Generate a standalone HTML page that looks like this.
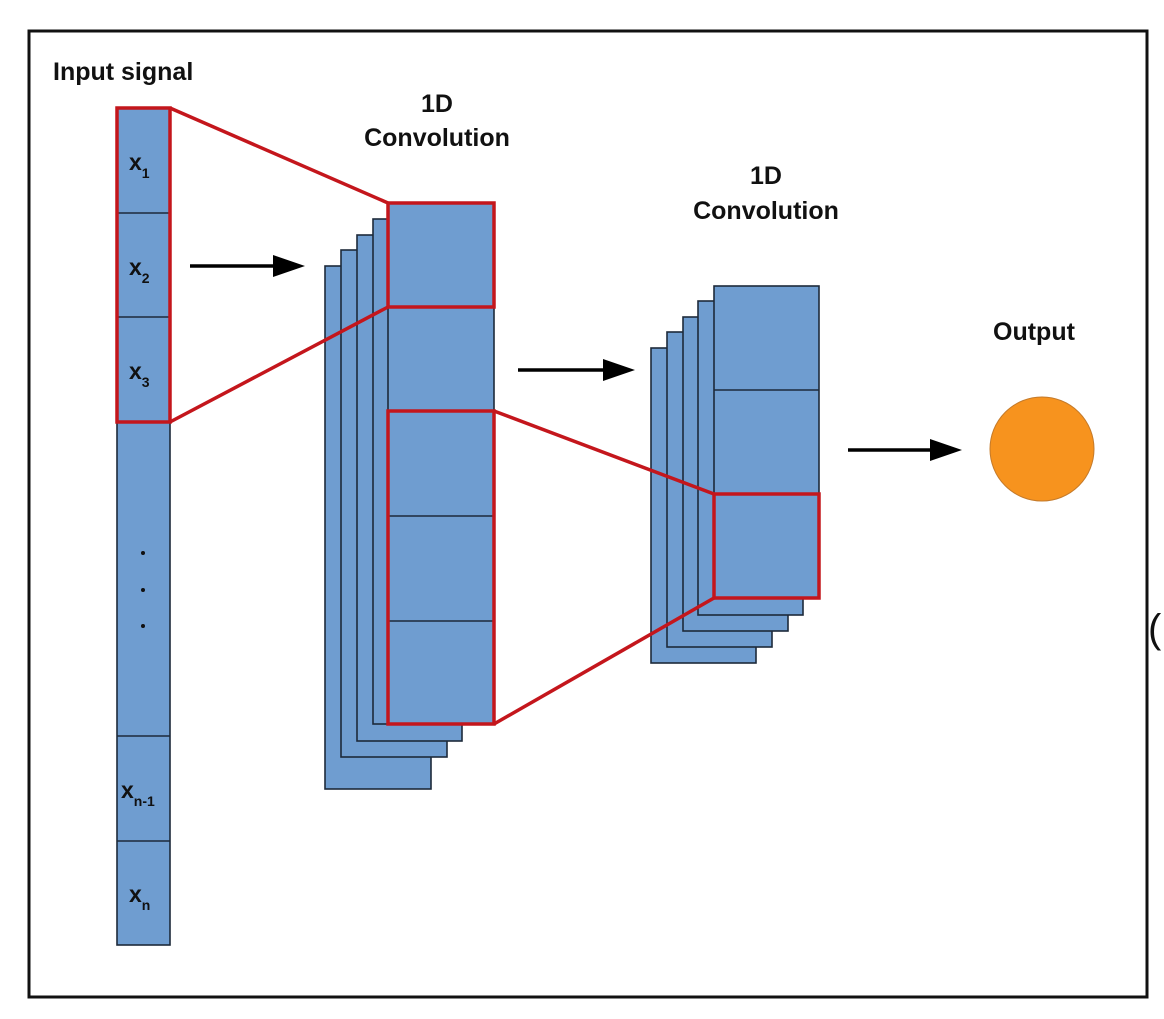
<!DOCTYPE html>
<html><head><style>html,body{margin:0;padding:0;background:#fff}</style></head><body>
<svg width="1164" height="1014" xmlns="http://www.w3.org/2000/svg" font-family="Liberation Sans, sans-serif" font-weight="bold">
<rect x="0" y="0" width="1164" height="1014" fill="#fff"/>
<rect x="29" y="31" width="1118" height="966" fill="none" stroke="#111" stroke-width="3"/>
<g fill="#6f9dd0" stroke="#1d2a3a" stroke-width="1.6">
<rect x="117" y="108" width="53" height="837"/>
<line x1="117" y1="213" x2="170" y2="213"/><line x1="117" y1="317" x2="170" y2="317"/>
<line x1="117" y1="422" x2="170" y2="422"/><line x1="117" y1="736" x2="170" y2="736"/><line x1="117" y1="841" x2="170" y2="841"/>
<rect x="325" y="266" width="106" height="523"/>
<rect x="341" y="250" width="106" height="507"/>
<rect x="357" y="235" width="105" height="506"/>
<rect x="373" y="219" width="105" height="505"/>
<rect x="388" y="203" width="106" height="521"/>
<line x1="388" y1="307" x2="494" y2="307"/><line x1="388" y1="411" x2="494" y2="411"/>
<line x1="388" y1="516" x2="494" y2="516"/><line x1="388" y1="621" x2="494" y2="621"/>
<rect x="651" y="348" width="105" height="315"/>
<rect x="667" y="332" width="105" height="315"/>
<rect x="683" y="317" width="105" height="314"/>
<rect x="698" y="301" width="105" height="314"/>
<rect x="714" y="286" width="105" height="312"/>
<line x1="714" y1="390" x2="819" y2="390"/><line x1="714" y1="494" x2="819" y2="494"/>
</g>
<g fill="none" stroke="#c4161c" stroke-width="3.5">
<rect x="117" y="108" width="53" height="314"/>
<rect x="388" y="203" width="106" height="104"/>
<rect x="388" y="411" width="106" height="313"/>
<rect x="714" y="494" width="105" height="104"/>
<line x1="170" y1="108" x2="388" y2="203"/><line x1="170" y1="422" x2="388" y2="307"/>
<line x1="494" y1="411" x2="714" y2="494"/><line x1="494" y1="724" x2="714" y2="598"/>
</g>
<g stroke="#000" stroke-width="3.5">
<line x1="190" y1="266" x2="280" y2="266"/><line x1="518" y1="370" x2="610" y2="370"/><line x1="848" y1="450" x2="937" y2="450"/>
</g>
<g fill="#000">
<polygon points="273,255 305,266 273,277"/><polygon points="603,359 635,370 603,381"/><polygon points="930,439 962,450 930,461"/>
</g>
<circle cx="1042" cy="449" r="52" fill="#f7931e" stroke="#c47a2a" stroke-width="1"/>
<g fill="#111">
<text x="53" y="80" font-size="25">Input signal</text>
<text x="437" y="112" font-size="25" text-anchor="middle">1D</text>
<text x="437" y="146" font-size="25" text-anchor="middle">Convolution</text>
<text x="766" y="184" font-size="25" text-anchor="middle">1D</text>
<text x="766" y="219" font-size="25" text-anchor="middle">Convolution</text>
<text x="993" y="340" font-size="25">Output</text>
<g font-size="23">
<text x="129" y="170">x<tspan font-size="14" dy="8">1</tspan></text>
<text x="129" y="275">x<tspan font-size="14" dy="8">2</tspan></text>
<text x="129" y="379">x<tspan font-size="14" dy="8">3</tspan></text>
<text x="121" y="798">x<tspan font-size="14" dy="8">n-1</tspan></text>
<text x="129" y="902">x<tspan font-size="14" dy="8">n</tspan></text>
</g>
<circle cx="143" cy="553" r="2"/><circle cx="143" cy="590" r="2"/><circle cx="143" cy="626" r="2"/>
<text x="1148" y="642" font-size="40" font-weight="normal">(</text>
</g>
</svg>
</body></html>
